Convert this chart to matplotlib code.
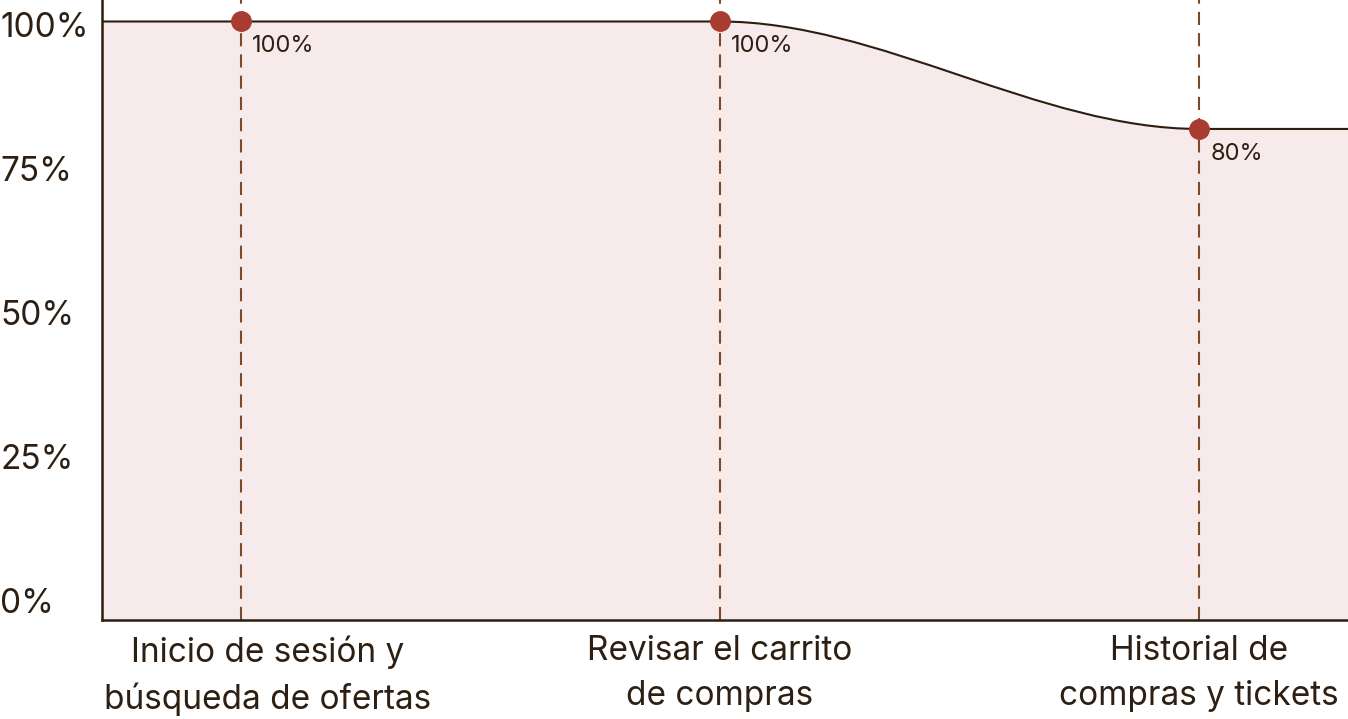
import matplotlib
matplotlib.use("Agg")
import matplotlib.pyplot as plt
import matplotlib.transforms as mtransforms
from matplotlib.path import Path
from matplotlib.patches import PathPatch

# Data
STEPS = ["Inicio de sesión y\nbúsqueda de ofertas",
         "Revisar el carrito\nde compras",
         "Historial de\ncompras y tickets"]
RETENTION = [100, 100, 80]
TICK_VALUES = [0, 25, 50, 75, 100]
TICK_LABELS = ["0%", "25%", "50%", "75%", "100%"]

TEXT = "#2d1f12"
SPINE = "#2d1d10"
FILL = "#f6eaea"
DASH = "#7b4a2b"
DOT = "#a83c30"

plt.rcParams["font.family"] = ["Inter", "DejaVu Sans"]

fig = plt.figure(figsize=(13.48, 7.19), dpi=100)
ax = fig.add_axes([102 / 1348, 99 / 719, 1 - 102 / 1348, 620 / 719])

xs = list(range(len(STEPS)))
x_lo, x_hi = -0.290, 2.311
y_lo, y_hi = -11.4, 104.0
ax.set_xlim(x_lo, x_hi)
ax.set_ylim(y_lo, y_hi)

# smooth step between points: flat tangents at each point (cubic bezier)
verts = [(x_lo, RETENTION[0])]
codes = [Path.MOVETO]
verts.append((xs[0], RETENTION[0]))
codes.append(Path.LINETO)
for i in range(1, len(xs)):
    x0, x1 = xs[i - 1], xs[i]
    y0, y1 = RETENTION[i - 1], RETENTION[i]
    d = (x1 - x0) / 3
    verts += [(x0 + d, y0), (x1 - d, y1), (x1, y1)]
    codes += [Path.CURVE4] * 3
verts.append((x_hi, RETENTION[-1]))
codes.append(Path.LINETO)

fill_path = Path(verts + [(x_hi, y_lo), (x_lo, y_lo), (x_lo, RETENTION[0])],
                 codes + [Path.LINETO, Path.LINETO, Path.CLOSEPOLY])
ax.add_patch(PathPatch(fill_path, facecolor=FILL, edgecolor="none", zorder=1))
ax.add_patch(PathPatch(Path(verts, codes), facecolor="none", edgecolor=SPINE,
                       lw=1.5, zorder=3))

for x in xs:
    ax.axvline(x, color=DASH, lw=1.5, dashes=(6.3, 3.9), zorder=2)

ax.plot(xs, RETENTION, "o", color=DOT, ms=14, zorder=4)
for x, v in zip(xs, RETENTION):
    ax.annotate(f"{v}%", (x, v), xytext=(8, -18), textcoords="offset points",
                ha="left", va="center", fontsize=17, color=TEXT, zorder=5)

ax.set_xticks(xs)
ax.set_xticklabels(STEPS, fontsize=24, color=TEXT, linespacing=1.5)
ax.tick_params(axis="x", length=0, pad=11)
ax.set_yticks([])

# first label is pushed right so it starts at the axis edge
first = ax.get_xticklabels()[0]
first.set_transform(first.get_transform()
                    + mtransforms.ScaledTranslation(27 / 100, 0, fig.dpi_scale_trans))

for side in ["top", "right"]:
    ax.spines[side].set_visible(False)
for side in ["left", "bottom"]:
    ax.spines[side].set_color(SPINE)
    ax.spines[side].set_linewidth(1.8)

# tick labels on their own scale
lab = ax.twinx()
lab.yaxis.tick_left()
lab.set_ylim(-3.47, 104.17)
lab.set_yticks(TICK_VALUES)
lab.set_yticklabels(TICK_LABELS, fontsize=24, color=TEXT, ha="left")
lab.tick_params(axis="y", length=0, pad=73.4)
for s in lab.spines.values():
    s.set_visible(False)

fig.savefig("out.png", dpi=100)
